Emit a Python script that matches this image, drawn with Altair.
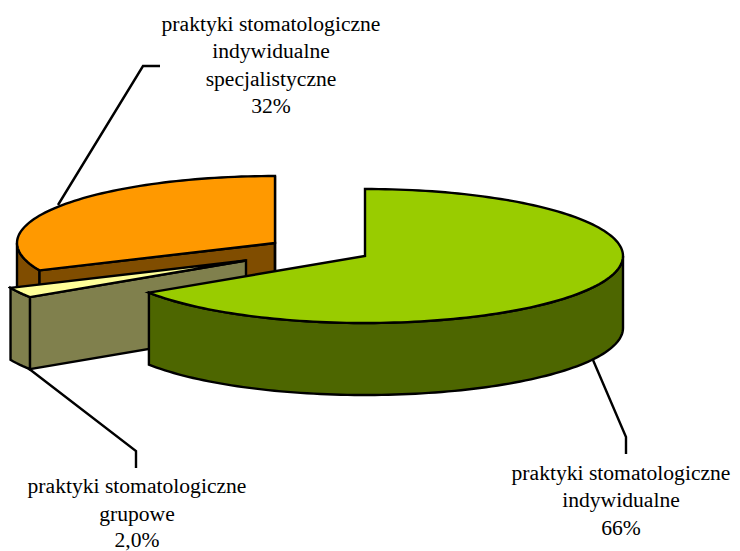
import math
import altair as alt
import pandas as pd

# Slice data, clockwise from 12 o'clock, shares
slice_names = ["indywidualne", "grupowe", "specjalistyczne"]
shares = [65.8, 2.5, 31.7]
top_colors = ["#99CC00", "#FFFF99", "#FF9900"]
side_colors = ["#4D6600", "#80804D", "#804D00"]

# Label texts
label_lines = [
    ["praktyki stomatologiczne", "indywidualne", "66%"],
    ["praktyki stomatologiczne", "grupowe", "2,0%"],
    ["praktyki stomatologiczne", "indywidualne", "specjalistyczne", "32%"],
]
label_x = [621, 137, 271]
label_y = [[480, 507, 535], [493, 521, 547], [31, 58, 86, 113]]

# Leader lines
leaders = [
    [(593, 360), (626, 437), (626, 454)],
    [(28, 368), (136, 451), (136, 468)],
    [(58, 205), (143, 66), (160, 66)],
]

# 3D pie projection (picture coordinates)
RX, RY, DEPTH = 258, 67, 72
centers = [(365, 256), (246, 260.5), (275, 243)]

PW, PH = 724, 543
x_scale = alt.Scale(domain=[8, 8 + PW], nice=False, zero=False)
y_scale = alt.Scale(domain=[8 + PH, 8], nice=False, zero=False)


def pt(c, deg, dz=0):
    t = math.radians(deg)
    return (c[0] + RX * math.sin(t), c[1] - RY * math.cos(t) + dz)


def arc(c, a, b, dz=0, step=1.5):
    n = max(2, int(abs(b - a) / step) + 1)
    return [pt(c, a + (b - a) * i / (n - 1), dz) for i in range(n)]


def poly(points, fill):
    pts = list(points) + list(points[:2])
    df = pd.DataFrame({"x": [p[0] for p in pts], "y": [p[1] for p in pts], "i": range(len(pts))})
    return alt.Chart(df).mark_line(
        fill=fill, stroke="#000000", strokeWidth=2.4, strokeJoin="miter", strokeMiterLimit=6
    ).encode(
        x=alt.X("x:Q", scale=x_scale, axis=None),
        y=alt.Y("y:Q", scale=y_scale, axis=None),
        order=alt.Order("i:Q"),
    )


def open_line(points):
    df = pd.DataFrame({"x": [p[0] for p in points], "y": [p[1] for p in points], "i": range(len(points))})
    return alt.Chart(df).mark_line(stroke="#000000", strokeWidth=2.4, strokeJoin="miter").encode(
        x=alt.X("x:Q", scale=x_scale, axis=None),
        y=alt.Y("y:Q", scale=y_scale, axis=None),
        order=alt.Order("i:Q"),
    )


# slice angular extents
ends = []
tot = 0
for s in shares:
    start = tot
    tot += s
    ends.append((start * 3.6, tot * 3.6))

layers = []
for ld in leaders:
    layers.append(open_line(ld))

# orange (specialist) slice: back-most
a, b = ends[2]
c = centers[2]
layers.append(poly(arc(c, a, 270) + arc(c, 270, a, DEPTH), side_colors[2]))
layers.append(poly([pt(c, a), (c[0], c[1]), (c[0], c[1] + DEPTH), pt(c, a, DEPTH)], side_colors[2]))
layers.append(poly([(c[0], c[1]), (c[0], c[1] + DEPTH), pt(c, b, DEPTH), pt(c, b)], side_colors[2]))
layers.append(poly([(c[0], c[1])] + arc(c, a, b), top_colors[2]))

# yellow (group) slice
a, b = ends[1]
c = centers[1]
layers.append(poly([(c[0], c[1]), (c[0], c[1] + DEPTH), pt(c, a, DEPTH), pt(c, a)], side_colors[1]))
layers.append(poly(arc(c, a, b) + arc(c, b, a, DEPTH), side_colors[1]))
layers.append(poly([(c[0], c[1])] + arc(c, a, b), top_colors[1]))

# green (individual) slice
a, b = ends[0]
c = centers[0]
layers.append(poly(arc(c, 90, b) + arc(c, b, 90, DEPTH), side_colors[0]))
layers.append(poly([(c[0], c[1])] + arc(c, a, b), top_colors[0]))

# labels
rows = []
for lines, lx, lys in zip(label_lines, label_x, label_y):
    for t, ly in zip(lines, lys):
        rows.append({"x": lx, "y": ly, "t": t})
layers.append(
    alt.Chart(pd.DataFrame(rows)).mark_text(
        font="Liberation Serif", fontSize=21.6, color="#000000", align="center", baseline="alphabetic"
    ).encode(
        x=alt.X("x:Q", scale=x_scale, axis=None),
        y=alt.Y("y:Q", scale=y_scale, axis=None),
        text="t:N",
    )
)

chart = alt.layer(*layers).properties(
    width=PW, height=PH, padding=0, autosize=alt.AutoSizeParams(type="none")
).configure_view(stroke=None)

chart.save("out.html", embed_options={"renderer": "svg", "actions": False})
